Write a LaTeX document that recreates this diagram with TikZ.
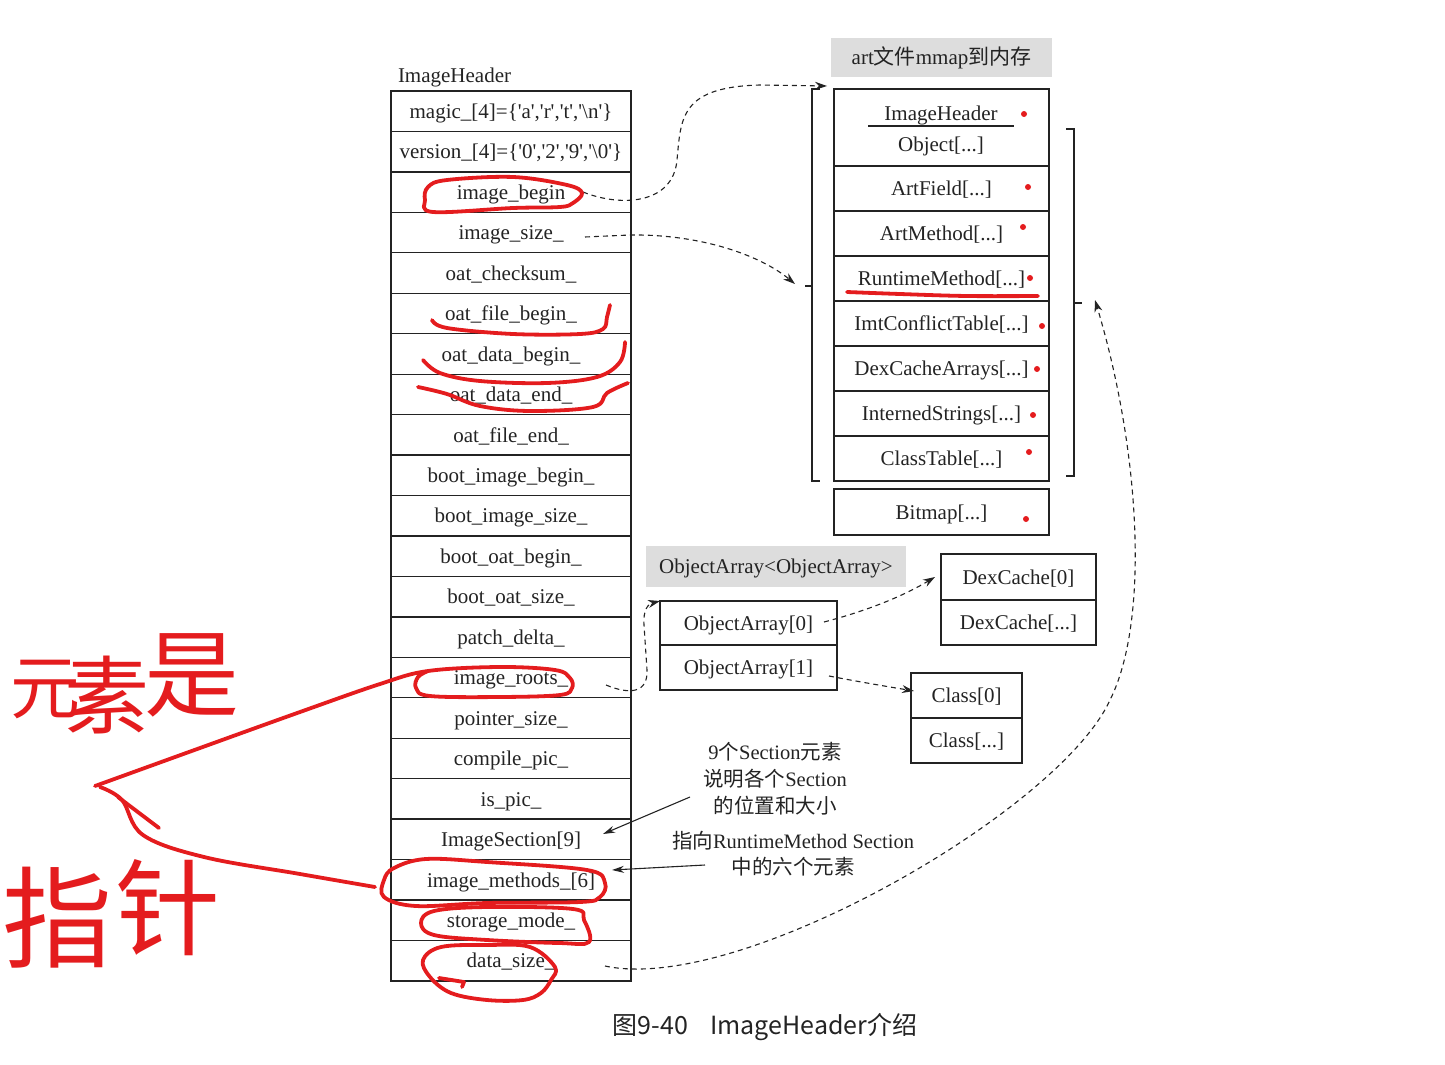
\documentclass[tikz,border=0pt]{standalone}
\usepackage{fontspec}
\setmainfont{Liberation Serif}
\newfontfamily\cjk{Noto Sans CJK SC}
\usetikzlibrary{arrows.meta}
\definecolor{penred}{RGB}{228,28,30}
\definecolor{labgray}{RGB}{221,221,221}
\definecolor{ink}{RGB}{35,35,35}
\newcommand\sq{\textquotesingle}
\begin{document}
\begin{tikzpicture}[x=1pt,y=-1pt,
  every node/.style={font=\fontsize{21}{25}\selectfont, text=ink, inner sep=0pt, outer sep=0pt},
  txt/.style={text height=19pt, text depth=4.5pt},
  hcell/.style={txt, draw=ink, line width=1.3pt, minimum width=240pt, minimum height=40.45pt, anchor=north},
  rcell/.style={txt, draw=ink, line width=1.3pt, minimum width=215pt, minimum height=45pt, anchor=north},
  bcell/.style={txt, draw=ink, line width=1.3pt, anchor=north, minimum height=45pt},
  graylab/.style={txt, fill=labgray},
  dasharrow/.style={draw=ink, line width=1.1pt, dash pattern=on 5pt off 4pt, -{Stealth[length=12pt,width=8pt]}},
  solidarrow/.style={draw=ink, line width=1.1pt, -{Stealth[length=12pt,width=7pt]}},
  redpen/.style={draw=penred, line width=3.8pt, line cap=round, line join=round},
  reddot/.style={fill=penred},
  bracketline/.style={draw=ink, line width=1.3pt},
  handw/.style={text=penred, font=\cjk}
]
\useasboundingbox (0,0) rectangle (1445,1065);

% ---------- ImageHeader table ----------
\node[anchor=west, txt] (ihlab) at (398,75) {ImageHeader};
\node[hcell] (h1) at (511,91) {magic\_[4]=\{\sq a\sq,\sq r\sq,\sq t\sq,\sq\textbackslash n\sq\}};
\node[hcell] (h2) at (h1.south) {version\_[4]=\{\sq 0\sq,\sq 2\sq,\sq 9\sq,\sq\textbackslash 0\sq\}};
\node[hcell] (h3) at (h2.south) {image\_begin};
\node[hcell] (h4) at (h3.south) {image\_size\_};
\node[hcell] (h5) at (h4.south) {oat\_checksum\_};
\node[hcell] (h6) at (h5.south) {oat\_file\_begin\_};
\node[hcell] (h7) at (h6.south) {oat\_data\_begin\_};
\node[hcell] (h8) at (h7.south) {oat\_data\_end\_};
\node[hcell] (h9) at (h8.south) {oat\_file\_end\_};
\node[hcell] (h10) at (h9.south) {boot\_image\_begin\_};
\node[hcell] (h11) at (h10.south) {boot\_image\_size\_};
\node[hcell] (h12) at (h11.south) {boot\_oat\_begin\_};
\node[hcell] (h13) at (h12.south) {boot\_oat\_size\_};
\node[hcell] (h14) at (h13.south) {patch\_delta\_};
\node[hcell] (h15) at (h14.south) {image\_roots\_};
\node[hcell] (h16) at (h15.south) {pointer\_size\_};
\node[hcell] (h17) at (h16.south) {compile\_pic\_};
\node[hcell] (h18) at (h17.south) {is\_pic\_};
\node[hcell] (h19) at (h18.south) {ImageSection[9]};
\node[hcell] (h20) at (h19.south) {image\_methods\_[6]};
\node[hcell] (h21) at (h20.south) {storage\_mode\_};
\node[hcell] (h22) at (h21.south) {data\_size\_};

% ---------- art file mmap block ----------
\node[graylab, minimum width=221pt, minimum height=39pt] (artlab) at (941.5,57.5) {art{\cjk 文件}mmap{\cjk 到内存}};
\node[rcell, minimum height=77pt] (r1) at (941.5,89) {};
\node[txt] (r1a) at (941,113) {ImageHeader};
\node[txt] (r1b) at (941,144) {Object[...]};
\draw[draw=ink, line width=1.1pt] (868,126) -- (1014,126);
\node[rcell] (r2) at (r1.south) {ArtField[...]};
\node[rcell] (r3) at (r2.south) {ArtMethod[...]};
\node[rcell] (r4) at (r3.south) {RuntimeMethod[...]};
\node[rcell] (r5) at (r4.south) {ImtConflictTable[...]};
\node[rcell] (r6) at (r5.south) {DexCacheArrays[...]};
\node[rcell] (r7) at (r6.south) {InternedStrings[...]};
\node[rcell] (r8) at (r7.south) {ClassTable[...]};
\node[rcell, minimum height=46pt] (r9) at (941.5,489) {Bitmap[...]};

% red dots
\fill[reddot] (1024,114) circle (3);
\fill[reddot] (1028,187) circle (3);
\fill[reddot] (1023,227) circle (3);
\fill[reddot] (1030,278) circle (3);
\fill[reddot] (1042,326) circle (3);
\fill[reddot] (1037,369) circle (3);
\fill[reddot] (1033,415) circle (3);
\fill[reddot] (1029,452) circle (3);
\fill[reddot] (1026,519) circle (3);

% brackets
\draw[bracketline] (820,89) -- (812,89) -- (812,481) -- (820,481);
\draw[bracketline] (812,286) -- (805,286);
\draw[bracketline] (1066,129) -- (1074,129) -- (1074,476) -- (1066,476);
\draw[bracketline] (1074,303) -- (1082,303);

% ---------- ObjectArray ----------
\node[graylab, minimum width=260pt, minimum height=41pt] (oalab) at (776,566) {ObjectArray<ObjectArray>};
\node[bcell, minimum width=177pt, minimum height=44pt] (oa0) at (748.5,601) {ObjectArray[0]};
\node[bcell, minimum width=177pt] (oa1) at (oa0.south) {ObjectArray[1]};
\node[bcell, minimum width=155pt, minimum height=46pt] (dc0) at (1018.5,554) {DexCache[0]};
\node[bcell, minimum width=155pt] (dc1) at (dc0.south) {DexCache[...]};
\node[bcell, minimum width=111pt] (c0) at (966.5,673) {Class[0]};
\node[bcell, minimum width=111pt] (c1) at (c0.south) {Class[...]};

% ---------- annotations ----------
\node[align=center, font=\fontsize{20.5}{27}\selectfont] (n9) at (775,779)
  {9{\cjk 个}Section{\cjk 元素}\\{\cjk 说明各个}Section\\{\cjk 的位置和大小}};
\node[align=center, font=\fontsize{20.5}{26}\selectfont] (nptr) at (793,854)
  {{\cjk 指向}RuntimeMethod Section\\{\cjk 中的六个元素}};
\node[font=\cjk\fontsize{25}{30}\selectfont] (cap) at (765,1027) {图9-40\hspace{22pt}ImageHeader介绍};

% ---------- connectors ----------
\coordinate (s1) at (583,192);
\coordinate (e1) at (827,86);
\draw[dasharrow] (s1) .. controls (620,207) and (673,205) .. (677,160) .. controls (681,118) and (680,87) .. (760,85) -- (e1);
\coordinate (s2) at (585,237);
\coordinate (e2) at (795,284);
\draw[dasharrow] (s2) -- (630,235) .. controls (700,234) and (760,255) .. (e2);
\coordinate (s3) at (606,685);
\coordinate (e3) at (660,601);
\draw[dasharrow] (s3) .. controls (630,695) and (648,693) .. (647,670) -- (644,625) .. controls (643,610) and (648,604) .. (e3);
\coordinate (s4) at (824,622);
\coordinate (e4) at (935,577);
\draw[dasharrow] (s4) .. controls (870,610) and (905,595) .. (e4);
\coordinate (s5) at (829,676);
\coordinate (e5) at (914,691);
\draw[dasharrow] (s5) .. controls (860,682) and (890,687) .. (e5);
\coordinate (s6) at (605,966);
\coordinate (e6) at (1095,300);
\draw[dasharrow] (s6) .. controls (740,995) and (1060,810) .. (1110,700) .. controls (1150,620) and (1140,450) .. (e6);
\coordinate (s7) at (690,797);
\coordinate (e7) at (603,834);
\draw[solidarrow] (s7) -- (e7);
\coordinate (s8) at (705,865);
\coordinate (e8) at (612,870);
\draw[solidarrow] (s8) -- (e8);

% ---------- red hand annotations ----------
\draw[redpen] plot[smooth cycle, tension=0.6] coordinates {(428,187) (447,180) (513,177) (567,185) (582,193) (573,203) (560,207) (513,208) (433,212) (425,200)};
\draw[redpen] plot[smooth, tension=0.6] coordinates {(432,320) (447,328) (513,334) (580,334) (603,329) (607,317) (610,305)};
\draw[redpen] plot[smooth, tension=0.6] coordinates {(423,360) (440,373) (480,381) (547,383) (597,377) (620,362) (625,342)};
\draw[redpen] plot[smooth, tension=0.6] coordinates {(418,387) (447,394) (480,406) (530,411) (593,407) (607,393) (628,383)};
\draw[redpen] plot[smooth, tension=0.6] coordinates {(95,786) (200,748) (300,712) (380,684) (428,671) (500,667) (555,670) (570,678) (572,688) (560,695) (500,697) (430,696) (416,688) (418,677) (428,671)};
\draw[redpen] plot[smooth, tension=0.6] coordinates {(100,787) (122,800) (143,835) (204,857) (300,874) (375,887)};
\draw[redpen] (118,797) -- (159,828);
\draw[redpen] plot[smooth cycle, tension=0.6] coordinates {(426,859) (487,862) (587,870) (605,883) (600,897) (580,902) (487,903) (416,906) (384,897) (384,880) (394,868)};
\draw[redpen] plot[smooth cycle, tension=0.6] coordinates {(434,911) (487,907) (573,909) (584,920) (589,942) (559,943) (487,940) (434,935) (421,923)};
\draw[redpen] plot[smooth cycle, tension=0.6] coordinates {(441,947) (487,945) (530,947) (555,967) (551,980) (541,993) (523,1000) (487,1000) (451,993) (430,977) (423,960)};
\draw[redpen] (439,978) -- (464,982) -- (462,987);
\draw[redpen] plot[smooth, tension=0.6] coordinates {(847,292) (900,294) (967,296) (1038,296)};

\node[handw, font=\cjk\fontsize{70}{70}\selectfont] (hw1) at (45,690) {元};
\node[handw, font=\cjk\fontsize{85}{85}\selectfont] (hw2) at (107,695) {素};
\node[handw, font=\cjk\fontsize{95}{95}\selectfont] (hw3) at (192,675) {是};
\node[handw, font=\cjk\fontsize{110}{110}\selectfont] (hw4) at (57,918) {指};
\node[handw, font=\cjk\fontsize{105}{105}\selectfont] (hw5) at (168,908) {针};
\end{tikzpicture}
\end{document}
